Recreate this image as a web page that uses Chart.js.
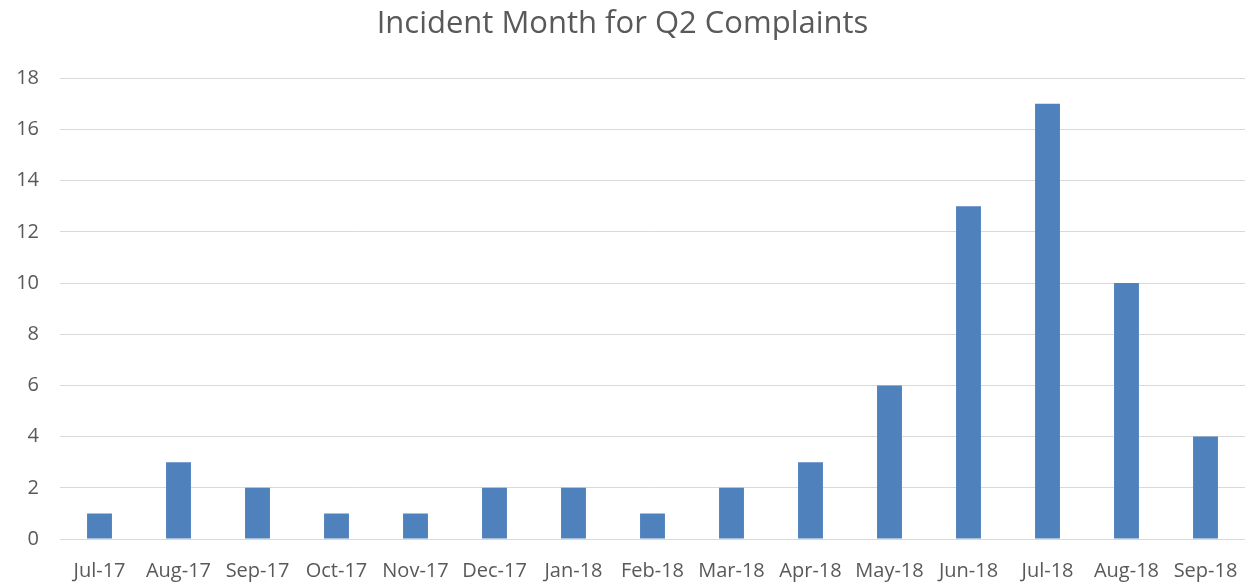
<!DOCTYPE html>
<html>
<head>
<meta charset="utf-8">
<title>Incident Month for Q2 Complaints</title>
<script src="https://cdn.jsdelivr.net/npm/chart.js@4"></script>
<style>
  html, body { margin: 0; padding: 0; background: #fff; }
  #wrap { width: 1245px; height: 582px; }
</style>
</head>
<body>
<div id="wrap"><canvas id="chart"></canvas></div>
<script>
// Meses e número de reclamações
const months = ["Jul-17", "Aug-17", "Sep-17", "Oct-17", "Nov-17", "Dec-17", "Jan-18", "Feb-18",
    "Mar-18", "Apr-18", "May-18", "Jun-18", "Jul-18", "Aug-18", "Sep-18"];
const complaints = [1, 3, 2, 1, 1, 2, 2, 1, 2, 3, 6, 13, 17, 10, 4];

const yMin = 0, yMax = 18, yStep = 2;

const textColor = "#595959";
const fontFamily = "'Open Sans', 'Noto Sans', sans-serif";

let myChart = new Chart(document.getElementById("chart"), {
    type: "bar",
    data: {
        labels: months,
        datasets: [{
            data: complaints,
            backgroundColor: "#4F81BD",
            barPercentage: 0.63,
            categoryPercentage: 0.5,
        }],
    },
    options: {
        responsive: true,
        maintainAspectRatio: false,
        animation: false,
        layout: { padding: { top: 6, right: 0, left: 0, bottom: 0 } },
        plugins: {
            legend: { display: false },
            tooltip: { enabled: false },
            title: {
                display: true,
                text: "Incident Month for Q2 Complaints",
                color: textColor,
                font: { family: fontFamily, size: 31, weight: "normal" },
                padding: { top: 0, bottom: 35 },
            },
        },
        scales: {
            x: {
                grid: { display: false },
                border: { display: true, color: "#d9d9d9" },
                ticks: {
                    color: textColor,
                    font: { family: fontFamily, size: 20 },
                    maxRotation: 0,
                    autoSkip: false,
                    padding: 12,
                },
                afterFit: (scale) => {
                    scale.height = 43;
                    scale.paddingLeft = 0;
                    scale.paddingRight = 0;
                },
            },
            y: {
                min: yMin,
                max: yMax,
                ticks: {
                    stepSize: yStep,
                    color: textColor,
                    font: { family: fontFamily, size: 20 },
                    padding: 21,
                },
                grid: { color: "#d9d9d9", drawTicks: false },
                border: { display: false },
                afterFit: (scale) => { scale.width = 60; },
            },
        },
    },
});
</script>
</body>
</html>
